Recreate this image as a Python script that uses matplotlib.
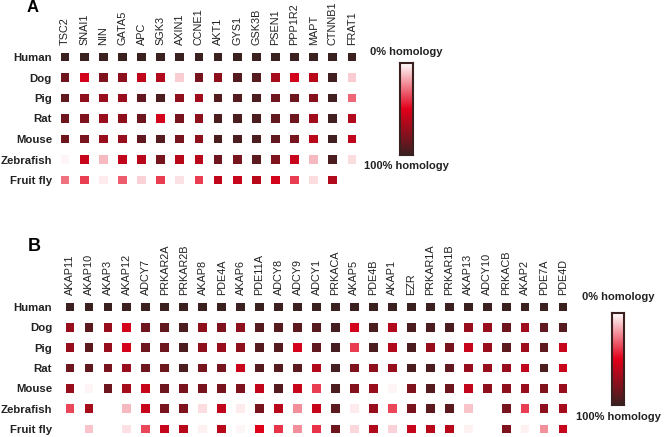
import numpy as np
import matplotlib
matplotlib.use("Agg")
import matplotlib.pyplot as plt
from matplotlib.colors import LinearSegmentedColormap

plt.rcParams['font.family'] = ['Liberation Sans', 'DejaVu Sans']

species = ["Human", "Dog", "Pig", "Rat", "Mouse", "Zebrafish", "Fruit fly"]

# panel A: Wnt / GSK3 genes, % homology to human
genes_a = ["TSC2", "SNAI1", "NIN", "GATA5", "APC", "SGK3", "AXIN1", "CCNE1",
           "AKT1", "GYS1", "GSK3B", "PSEN1", "PPP1R2", "MAPT", "CTNNB1", "FRAT1"]
human_a = [100] * 16
dog_a = [85, 55, 80, 75, 60, 65, 10, 82, 75, 92, 92, 68, 55, 62, 98, 10]
pig_a = [88, 75, 72, 72, 88, 95, 75, 70, 92, 92, 95, 85, 85, 78, 98, 30]
rat_a = [85, 80, 72, 75, 85, 55, 82, 75, 95, 95, 95, 88, 85, 70, 98, 65]
mouse_a = [85, 82, 72, 72, 88, 92, 82, 75, 95, 95, 95, 88, 82, 62, 98, 60]
zebrafish_a = [2, 58, 14, 60, 62, 82, 62, 62, 85, 82, 90, 80, 58, 14, 95, 7]
fly_a = [28, 38, 4, 32, 9, 38, 6, 38, 60, 58, 62, 55, 38, 7, 65, 0]

# panel B: cAMP / PKA genes
genes_b = ["AKAP11", "AKAP10", "AKAP3", "AKAP12", "ADCY7", "PRKAR2A", "PRKAR2B",
           "AKAP8", "PDE4A", "AKAP6", "PDE11A", "ADCY8", "ADCY9", "ADCY1", "PRKACA",
           "AKAP5", "PDE4B", "AKAP1", "EZR", "PRKAR1A", "PRKAR1B", "AKAP13",
           "ADCY10", "PRKACB", "AKAP2", "PDE7A", "PDE4D"]
human_b = [100] * 27
dog_b = [72, 90, 72, 55, 85, 88, 95, 75, 80, 75, 92, 92, 90, 92, 97,
         55, 95, 65, 95, 95, 95, 72, 72, 85, 70, 88, 92]
pig_b = [72, 90, 72, 55, 85, 85, 95, 75, 72, 75, 92, 92, 55, 88, 97,
         38, 95, 65, 95, 72, 82, 58, 72, 90, 70, 90, 58]
rat_b = [85, 88, 82, 72, 85, 85, 95, 82, 82, 58, 92, 92, 90, 65, 97,
         80, 75, 72, 95, 95, 88, 72, 72, 72, 60, 95, 58]
mouse_b = [72, 2, 85, 68, 58, 85, 82, 82, 82, 80, 60, 92, 58, 38, 95,
           78, 72, 2, 80, 92, 85, 60, 75, 75, 72, 80, 72]
zebrafish_b = [36, 68, 0, 14, 58, 82, 80, 7, 60, 4, 82, 62, 22, 58, 90,
               4, 72, 36, 82, 90, 90, 12, 0, 82, 38, 75, 68]
fly_b = [0, 12, 0, 6, 36, 58, 62, 3, 62, 2, 50, 40, 22, 40, 85,
         8, 65, 9, 58, 62, 62, 3, 0, 80, 3, 22, 58]

cmap = LinearSegmentedColormap.from_list(
    "homology", [(0, "#ffffff"), (0.5, "#e2001a"), (1, "#3b2020")])

W, H = 666, 437
fig = plt.figure(figsize=(W / 100, H / 100), dpi=100)


def px_axes(x0, y0, x1, y1):
    # pixel box (top-left origin) -> figure axes
    return fig.add_axes([x0 / W, 1 - y1 / H, (x1 - x0) / W, (y1 - y0) / H])


def panel(genes, rows, x_first, x_last, y_first, y_last, label_pad):
    ncol, nrow = len(genes), len(rows)
    dx = (x_last - x_first) / (ncol - 1)
    dy = (y_last - y_first) / (nrow - 1)
    ax = px_axes(x_first - dx / 2, y_first - dy / 2, x_last + dx / 2, y_last + dy / 2)
    vals = np.array(rows, dtype=float)
    yy, xx = np.mgrid[0:nrow, 0:ncol]
    ax.scatter(xx.ravel(), yy.ravel(), c=vals.ravel(), cmap=cmap, vmin=0, vmax=100,
               marker="s", s=40, linewidths=0)
    ax.set_xlim(-0.5, ncol - 0.5)
    ax.set_ylim(nrow - 0.5, -0.5)
    ax.xaxis.tick_top()
    ax.set_xticks(range(ncol))
    ax.set_xticklabels(genes, rotation=90, fontsize=7.8, color="#222222")
    ax.set_yticks(range(nrow))
    ax.set_yticklabels(species, fontsize=8.2, fontweight="bold", color="#222222")
    ax.tick_params(length=0)
    ax.tick_params(axis="x", pad=1)
    ax.tick_params(axis="y", pad=label_pad)
    for s in ax.spines.values():
        s.set_visible(False)
    return ax


def colorbar(x0, y0, x1, y1, top_y, bottom_y):
    cax = px_axes(x0, y0, x1, y1)
    grad = np.linspace(0, 100, 256).reshape(-1, 1)
    cax.imshow(grad, aspect="auto", cmap=cmap, vmin=0, vmax=100,
               extent=[0, 1, 1, 0])
    cax.set_xticks([])
    cax.set_yticks([])
    for s in cax.spines.values():
        s.set_edgecolor("#3b2020")
        s.set_linewidth(1.5)
    xc = (x0 + x1) / 2 / W
    fig.text(xc, 1 - top_y / H, "0% homology", ha="center", va="center",
             fontsize=8, fontweight="bold", color="#222222")
    fig.text(xc, 1 - bottom_y / H, "100% homology", ha="center", va="center",
             fontsize=8, fontweight="bold", color="#222222")


panel(genes_a, [human_a, dog_a, pig_a, rat_a, mouse_a, zebrafish_a, fly_a],
      65, 352, 57, 180, label_pad=2.5)
colorbar(400, 63, 413, 155, 52, 166)

panel(genes_b, [human_b, dog_b, pig_b, rat_b, mouse_b, zebrafish_b, fly_b],
      70, 563, 307, 429, label_pad=6)
colorbar(612, 313, 624, 405, 297, 417)

fig.text(27 / W, 1 - 7 / H, "A", fontsize=12, fontweight="bold", va="center")
fig.text(28 / W, 1 - 247 / H, "B", fontsize=13, fontweight="bold", va="center")

fig.savefig("out.png", dpi=100)
